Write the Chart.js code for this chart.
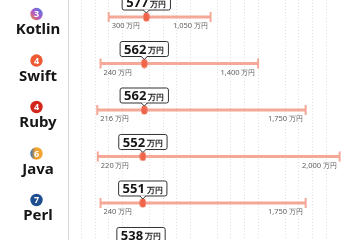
<!DOCTYPE html>
<html>
<head>
<meta charset="utf-8">
<script src="https://cdn.jsdelivr.net/npm/chart.js@4"></script>
<style>
  html, body { margin: 0; padding: 0; background: #fff; }
  canvas { display: block; }
</style>
</head>
<body>
<canvas id="pay-chart" width="360" height="240"></canvas>
<script>
// languages, ranking and annual pay (万円)
const languages = ["Kotlin", "Swift", "Ruby", "Java", "Perl", "Go"];
const ranks = [3, 4, 4, 6, 7, 8];
const medianPay = [577, 562, 562, 552, 551, 538];
const minPay = [300, 240, 216, 220, 240, 200];
const maxPay = [1050, 1400, 1750, 2000, 1750, 1500];
const rankColors = ["kotlin", "#ee5a33", "#d3261c", "java", "#1d4f8f", "#1d4f8f"];

const rangeColor = "#f5a898";
const dotColor = "#f0654a";

// rounded pill used as the median marker
const dot = document.createElement("canvas");
dot.width = 7; dot.height = 10;
(function () {
  const c = dot.getContext("2d");
  c.fillStyle = dotColor;
  c.beginPath();
  c.roundRect(0.5, 0.5, 6, 9, 3);
  c.fill();
})();

const fmt = v => v.toLocaleString("en-US");

const labelPlugin = {
  id: "labels",
  afterDraw(chart) {
    const ctx = chart.ctx;
    const xs = chart.scales.x, ys = chart.scales.y;
    ctx.save();
    // left separator at zero
    const zx = Math.round(xs.getPixelForValue(0)) + 0.5;
    ctx.strokeStyle = "#d8d8d8";
    ctx.lineWidth = 1;
    ctx.beginPath();
    ctx.moveTo(zx, 0);
    ctx.lineTo(zx, chart.height);
    ctx.stroke();

    languages.forEach((name, i) => {
      const py = ys.getPixelForValue(i);
      // rank badge
      const cx = 36.5, cy = py - 3, r = 6.2;
      let fill = rankColors[i];
      if (fill === "kotlin") {
        fill = ctx.createLinearGradient(cx - r, cy + r, cx + r, cy - r);
        fill.addColorStop(0, "#f58a2b");
        fill.addColorStop(0.45, "#b257c9");
        fill.addColorStop(1, "#3f7fe3");
      } else if (fill === "java") {
        fill = ctx.createLinearGradient(cx - r, cy, cx + r, cy);
        fill.addColorStop(0, "#2f6fb6");
        fill.addColorStop(0.4, "#f0a030");
        fill.addColorStop(1, "#f2a832");
      }
      ctx.fillStyle = fill;
      ctx.beginPath();
      ctx.arc(cx, cy, r, 0, Math.PI * 2);
      ctx.fill();
      ctx.fillStyle = "#fff";
      ctx.font = "bold 9px 'Noto Sans'";
      ctx.textAlign = "center";
      ctx.textBaseline = "middle";
      ctx.fillText(String(ranks[i]), cx, cy + 0.5);
      // language name
      ctx.fillStyle = "#161616";
      ctx.font = "bold 15px 'Noto Sans'";
      ctx.fillText(name, 38, py + 13);

      // min / max labels
      const x0 = xs.getPixelForValue(minPay[i]);
      const x1 = xs.getPixelForValue(maxPay[i]);
      ctx.fillStyle = "#5e5e5e";
      ctx.textBaseline = "middle";
      const smallLabel = (v, x, alignRight) => {
        ctx.font = "7.5px 'Noto Sans'";
        const a = fmt(v);
        const wa = ctx.measureText(a).width;
        ctx.font = "6.5px 'Noto Sans'";
        const wb = ctx.measureText("万円").width;
        const start = alignRight ? x - (wa + 1.5 + wb) : x;
        ctx.textAlign = "left";
        ctx.font = "7.5px 'Noto Sans'";
        ctx.fillText(a, start, py + 9);
        ctx.font = "6.5px 'Noto Sans'";
        ctx.fillText("万円", start + wa + 1.5, py + 9.3);
      };
      smallLabel(minPay[i], x0 + 3, false);
      smallLabel(maxPay[i], x1 - 3, true);

      // callout with median value
      const px = xs.getPixelForValue(medianPay[i]);
      ctx.font = "bold 13px 'Noto Sans'";
      const num = String(medianPay[i]);
      const wn = ctx.measureText(num).width;
      ctx.font = "bold 8px 'Noto Sans'";
      const wu = ctx.measureText("万円").width;
      const w = wn + 2 + wu + 8, h = 15;
      const bx = px - w / 2, by = py - 7 - h;
      ctx.fillStyle = "#fff";
      ctx.strokeStyle = "#333";
      ctx.lineWidth = 1;
      ctx.beginPath();
      ctx.roundRect(bx, by, w, h, 2);
      ctx.fill();
      ctx.stroke();
      ctx.beginPath();
      ctx.moveTo(px - 3, by + h - 0.5);
      ctx.lineTo(px, by + h + 3);
      ctx.lineTo(px + 3, by + h - 0.5);
      ctx.closePath();
      ctx.fill();
      ctx.beginPath();
      ctx.moveTo(px - 3, by + h);
      ctx.lineTo(px, by + h + 3);
      ctx.lineTo(px + 3, by + h);
      ctx.stroke();
      ctx.fillStyle = "#161616";
      ctx.textAlign = "left";
      ctx.textBaseline = "alphabetic";
      ctx.font = "bold 13px 'Noto Sans'";
      ctx.fillText(num, bx + 4, by + 12.3);
      ctx.font = "bold 8px 'Noto Sans'";
      ctx.fillText("万円", bx + 4 + wn + 2, by + 11.8);
    });
    ctx.restore();
  }
};

const rows = languages.map((_, i) => i);

new Chart(document.getElementById("pay-chart"), {
  type: "bar",
  data: {
    datasets: [
      {
        type: "scatter",
        label: "median",
        data: rows.map(i => ({ x: medianPay[i], y: i })),
        pointStyle: dot,
        radius: 4,
        order: 0
      },
      {
        type: "scatter",
        label: "caps",
        data: rows.flatMap(i => [{ x: minPay[i], y: i }, { x: maxPay[i], y: i }]),
        pointStyle: "line",
        rotation: 90,
        radius: 5,
        borderWidth: 2,
        borderColor: rangeColor,
        order: 1
      },
      {
        label: "range",
        data: rows.map(i => ({ x: [minPay[i], maxPay[i]], y: i })),
        backgroundColor: rangeColor,
        barThickness: 2.5,
        order: 2
      }
    ]
  },
  options: {
    indexAxis: "y",
    responsive: false,
    animation: false,
    devicePixelRatio: 1,
    layout: { padding: 0, autoPadding: false },
    plugins: {
      legend: { display: false },
      tooltip: { enabled: false }
    },
    scales: {
      y: {
        type: "linear",
        reverse: true,
        offset: false,
        min: -0.366,
        max: 4.796,
        display: false
      },
      x: {
        type: "linear",
        offset: false,
        min: -500,
        max: 2150,
        ticks: { display: false, stepSize: 500 },
        grid: {
          drawTicks: false,
          color: c => (c.tick && c.tick.value > 0 && c.tick.value % 500 === 0) ? "#d8d8d8" : "rgba(0,0,0,0)"
        },
        border: { display: false }
      },
      x2: {
        type: "linear",
        position: "bottom",
        offset: false,
        min: -500,
        max: 2150,
        ticks: { display: false, stepSize: 100 },
        grid: {
          drawTicks: false,
          color: c => (c.tick && c.tick.value > 0 && c.tick.value % 500 !== 0) ? "#e0e0e0" : "rgba(0,0,0,0)"
        },
        border: { display: false, dash: [1, 2] }
      }
    }
  },
  plugins: [labelPlugin]
});
</script>
</body>
</html>
